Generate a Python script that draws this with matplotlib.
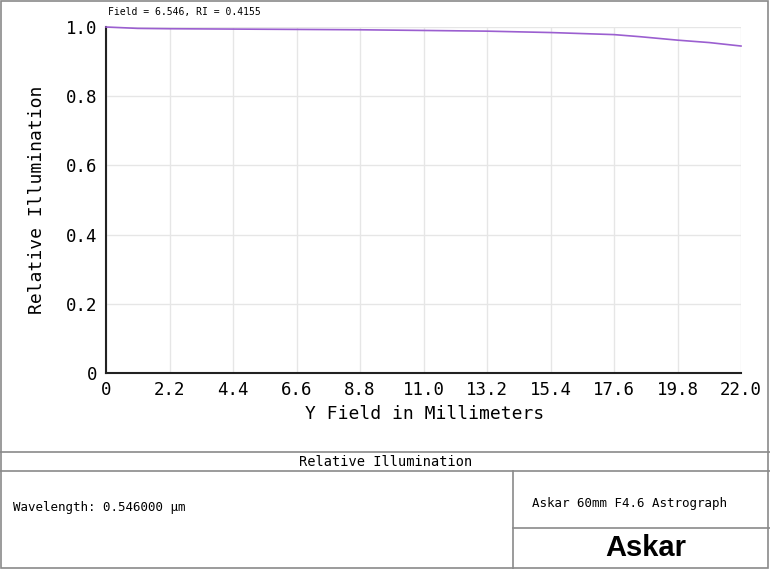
import matplotlib
matplotlib.use("Agg")
import matplotlib.pyplot as plt
from matplotlib.lines import Line2D
from matplotlib.patches import Rectangle

# relative illumination vs field
field_mm = [0, 1.1, 2.2, 4.4, 6.6, 8.8, 11.0, 13.2, 15.4, 17.6, 18.5, 19.8, 20.9, 22.0]
rel_illum = [1.0, 0.996, 0.995, 0.994, 0.993, 0.992, 0.990, 0.988, 0.984, 0.978, 0.972, 0.962, 0.955, 0.945]

x_ticks = [0, 2.2, 4.4, 6.6, 8.8, 11.0, 13.2, 15.4, 17.6, 19.8, 22.0]
x_tick_labels = ["0", "2.2", "4.4", "6.6", "8.8", "11.0", "13.2", "15.4", "17.6", "19.8", "22.0"]
y_ticks = [0, 0.2, 0.4, 0.6, 0.8, 1.0]
y_tick_labels = ["0", "0.2", "0.4", "0.6", "0.8", "1.0"]

W, H = 770, 569
mono = "DejaVu Sans Mono"

fig = plt.figure(figsize=(W / 100, H / 100), dpi=100)

def fx(px):
    return px / W

def fy(py):
    return 1 - py / H

ax = fig.add_axes([fx(106), fy(373), fx(741) - fx(106), fy(27) - fy(373)])
ax.plot(field_mm, rel_illum, color="#9b5fd0", lw=1.2, clip_on=False, zorder=3)
ax.set_xlim(0, 22)
ax.set_ylim(0, 1)
ax.set_xticks(x_ticks)
ax.set_xticklabels(x_tick_labels, fontfamily=mono, fontsize=12.5)
ax.set_yticks(y_ticks)
ax.set_yticklabels(y_tick_labels, fontfamily=mono, fontsize=12.5)
ax.tick_params(length=0, pad=6)
ax.grid(True, color="#e6e6e6", lw=1)
for s in ["top", "right"]:
    ax.spines[s].set_visible(False)
ax.spines["left"].set_color("#222222")
ax.spines["bottom"].set_color("#222222")
ax.spines["left"].set_linewidth(1.5)
ax.spines["bottom"].set_linewidth(1.5)

fig.text(fx(37), fy(200), "Relative Illumination", rotation=90, ha="center", va="center",
         fontfamily=mono, fontsize=13)
fig.text(fx(425), fy(414), "Y Field in Millimeters", ha="center", va="center",
         fontfamily=mono, fontsize=13)
fig.text(fx(108), fy(12), "Field = 6.546, RI = 0.4155", ha="left", va="center",
         fontfamily=mono, fontsize=7)

# frame and bottom table
gray = "#8a8a8a"
fig.add_artist(Rectangle((0.001, 0.001), 0.997, 0.997, transform=fig.transFigure,
                         fill=False, ec=gray, lw=1.2))
fig.add_artist(Line2D([0, 1], [fy(452), fy(452)], color=gray, lw=1.2))
fig.add_artist(Line2D([0, 1], [fy(471), fy(471)], color=gray, lw=1.2))
fig.add_artist(Line2D([fx(513), fx(513)], [0, fy(471)], color=gray, lw=1.2))
fig.add_artist(Line2D([fx(513), 1], [fy(528), fy(528)], color=gray, lw=1.2))

fig.text(fx(386), fy(462), "Relative Illumination", ha="center", va="center",
         fontfamily=mono, fontsize=9.8)
fig.text(fx(13), fy(508), "Wavelength: 0.546000 µm", ha="left", va="center",
         fontfamily=mono, fontsize=9)
fig.text(fx(630), fy(503), "Askar 60mm F4.6 Astrograph", ha="center", va="center",
         fontfamily=mono, fontsize=9)
fig.text(fx(646), fy(548), "Askar", ha="center", va="center",
         fontfamily=["Liberation Sans", "DejaVu Sans"], fontweight="bold", fontsize=21)

fig.savefig("out.png", dpi=100)
